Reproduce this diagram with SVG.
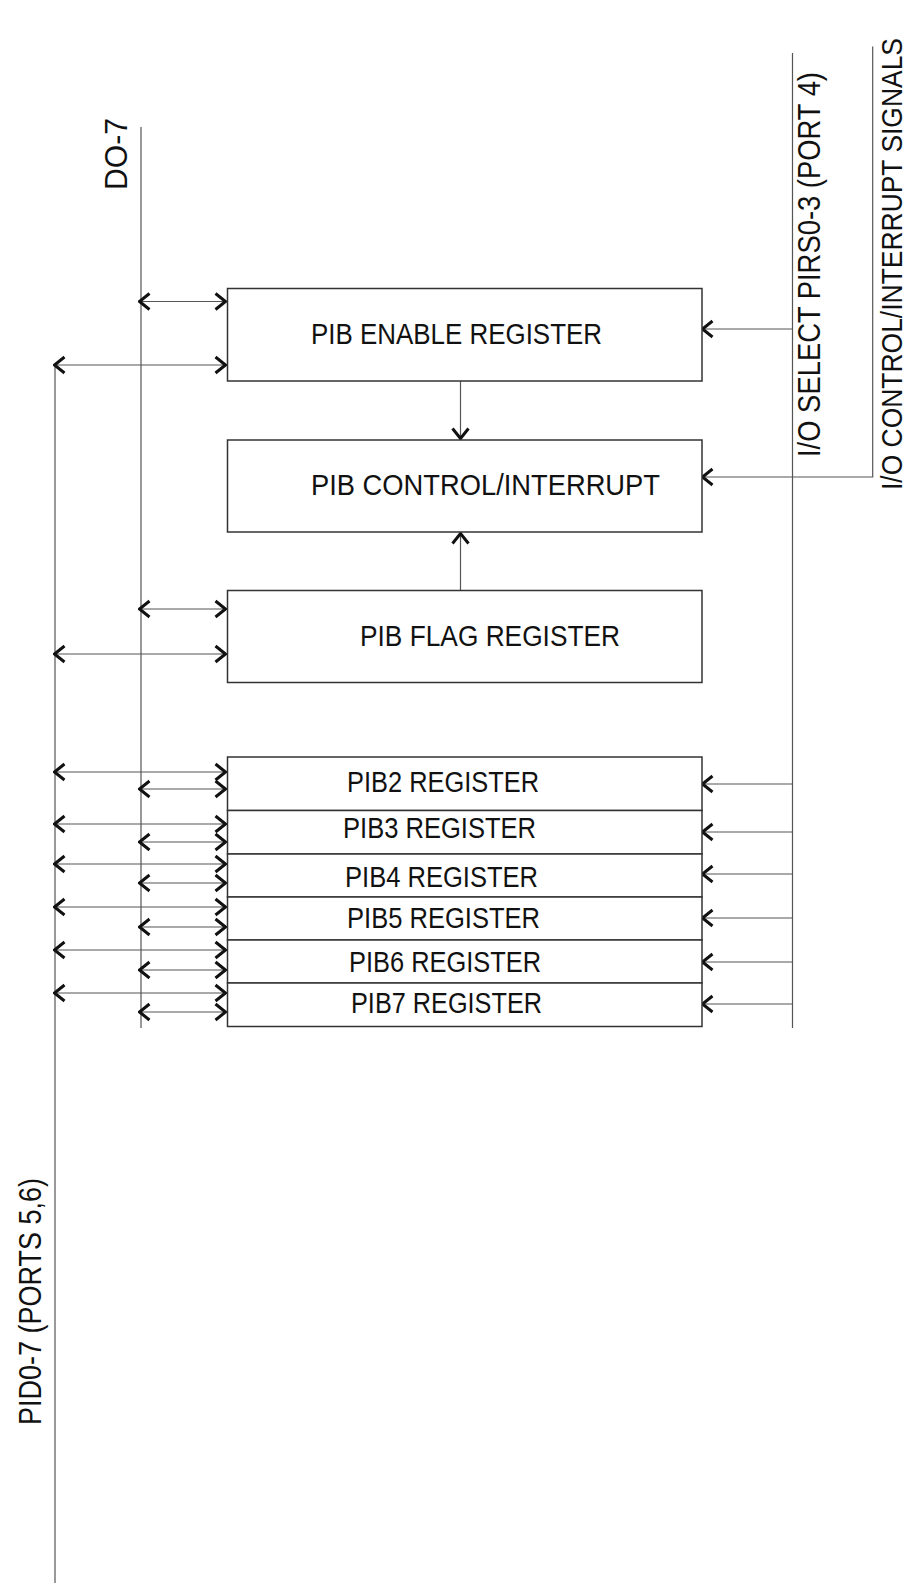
<svg xmlns="http://www.w3.org/2000/svg" width="912" height="1583" viewBox="0 0 912 1583">
<style>
.box{fill:#fff;stroke:#333;stroke-width:1.5}
.ln{stroke:#555;stroke-width:1.2;fill:none}
.t{font-family:"Liberation Sans",Arial,sans-serif;font-size:29px;fill:#111}
.lbl{font-family:"Liberation Sans",Arial,sans-serif;font-size:31px;fill:#111}
.lbl2{font-family:"Liberation Sans",Arial,sans-serif;font-size:30px;fill:#111}
</style>
<defs>
<marker id="ah" viewBox="0 0 13 20" refX="12" refY="10" markerWidth="13" markerHeight="20" markerUnits="userSpaceOnUse" orient="auto-start-reverse">
<path d="M1.5,2 L11.5,10 L1.5,18" fill="none" stroke="#111" stroke-width="3"/>
</marker>
</defs>
<rect width="912" height="1583" fill="#fff"/>

<g id="connectors">
<line class="ln" x1="141" y1="127" x2="141" y2="1028"/>
<line class="ln" x1="55" y1="365" x2="55" y2="1583"/>
<line class="ln" x1="792.5" y1="53" x2="792.5" y2="1028"/>
<polyline class="ln" points="872.7,46.5 872.7,477 702,477" marker-end="url(#ah)"/>
<line class="ln" x1="139" y1="301.5" x2="226" y2="301.5" marker-start="url(#ah)" marker-end="url(#ah)"/>
<line class="ln" x1="54" y1="365" x2="226" y2="365" marker-start="url(#ah)" marker-end="url(#ah)"/>
<line class="ln" x1="792.5" y1="329" x2="702" y2="329" marker-end="url(#ah)"/>
<line class="ln" x1="460.5" y1="381" x2="460.5" y2="439" marker-end="url(#ah)"/>
<line class="ln" x1="460.5" y1="590" x2="460.5" y2="533" marker-end="url(#ah)"/>
<line class="ln" x1="139" y1="609" x2="226" y2="609" marker-start="url(#ah)" marker-end="url(#ah)"/>
<line class="ln" x1="54" y1="654" x2="226" y2="654" marker-start="url(#ah)" marker-end="url(#ah)"/>
<line class="ln" x1="54" y1="772" x2="226" y2="772" marker-start="url(#ah)" marker-end="url(#ah)"/>
<line class="ln" x1="139" y1="789" x2="226" y2="789" marker-start="url(#ah)" marker-end="url(#ah)"/>
<line class="ln" x1="792.5" y1="784" x2="702" y2="784" marker-end="url(#ah)"/>
<line class="ln" x1="54" y1="824" x2="226" y2="824" marker-start="url(#ah)" marker-end="url(#ah)"/>
<line class="ln" x1="139" y1="842" x2="226" y2="842" marker-start="url(#ah)" marker-end="url(#ah)"/>
<line class="ln" x1="792.5" y1="832" x2="702" y2="832" marker-end="url(#ah)"/>
<line class="ln" x1="54" y1="864" x2="226" y2="864" marker-start="url(#ah)" marker-end="url(#ah)"/>
<line class="ln" x1="139" y1="883" x2="226" y2="883" marker-start="url(#ah)" marker-end="url(#ah)"/>
<line class="ln" x1="792.5" y1="874" x2="702" y2="874" marker-end="url(#ah)"/>
<line class="ln" x1="54" y1="907" x2="226" y2="907" marker-start="url(#ah)" marker-end="url(#ah)"/>
<line class="ln" x1="139" y1="927" x2="226" y2="927" marker-start="url(#ah)" marker-end="url(#ah)"/>
<line class="ln" x1="792.5" y1="918" x2="702" y2="918" marker-end="url(#ah)"/>
<line class="ln" x1="54" y1="950" x2="226" y2="950" marker-start="url(#ah)" marker-end="url(#ah)"/>
<line class="ln" x1="139" y1="970" x2="226" y2="970" marker-start="url(#ah)" marker-end="url(#ah)"/>
<line class="ln" x1="792.5" y1="962" x2="702" y2="962" marker-end="url(#ah)"/>
<line class="ln" x1="54" y1="993" x2="226" y2="993" marker-start="url(#ah)" marker-end="url(#ah)"/>
<line class="ln" x1="139" y1="1012" x2="226" y2="1012" marker-start="url(#ah)" marker-end="url(#ah)"/>
<line class="ln" x1="792.5" y1="1004" x2="702" y2="1004" marker-end="url(#ah)"/>
</g>

<g id="enable">
<rect class="box" x="227.5" y="288.5" width="474.5" height="92.5"/>
<text class="t" x="311" y="344" textLength="291" lengthAdjust="spacingAndGlyphs">PIB ENABLE REGISTER</text>
</g>
<g id="control">
<rect class="box" x="227.5" y="440" width="474.5" height="92"/>
<text class="t" x="311" y="495" textLength="349" lengthAdjust="spacingAndGlyphs">PIB CONTROL/INTERRUPT</text>
</g>
<g id="flag">
<rect class="box" x="227.5" y="590.5" width="474.5" height="92"/>
<text class="t" x="360" y="646" textLength="260" lengthAdjust="spacingAndGlyphs">PIB FLAG REGISTER</text>
</g>
<g id="pib2">
<rect class="box" x="227.5" y="757" width="474.5" height="53.5"/>
<text class="t" x="347" y="792" textLength="192" lengthAdjust="spacingAndGlyphs">PIB2 REGISTER</text>
</g>
<g id="pib3">
<rect class="box" x="227.5" y="810.5" width="474.5" height="43.5"/>
<text class="t" x="343" y="838" textLength="193" lengthAdjust="spacingAndGlyphs">PIB3 REGISTER</text>
</g>
<g id="pib4">
<rect class="box" x="227.5" y="854" width="474.5" height="43"/>
<text class="t" x="345" y="887" textLength="193" lengthAdjust="spacingAndGlyphs">PIB4 REGISTER</text>
</g>
<g id="pib5">
<rect class="box" x="227.5" y="897" width="474.5" height="43"/>
<text class="t" x="347" y="928" textLength="193" lengthAdjust="spacingAndGlyphs">PIB5 REGISTER</text>
</g>
<g id="pib6">
<rect class="box" x="227.5" y="940" width="474.5" height="43"/>
<text class="t" x="349" y="972" textLength="192" lengthAdjust="spacingAndGlyphs">PIB6 REGISTER</text>
</g>
<g id="pib7">
<rect class="box" x="227.5" y="983" width="474.5" height="43.5"/>
<text class="t" x="351" y="1013" textLength="191" lengthAdjust="spacingAndGlyphs">PIB7 REGISTER</text>
</g>

<g id="labels">
<text class="lbl" transform="translate(127,190) rotate(-90)" textLength="72" lengthAdjust="spacingAndGlyphs">DO-7</text>
<text class="lbl" transform="translate(41,1425) rotate(-90)" textLength="247" lengthAdjust="spacingAndGlyphs">PID0-7 (PORTS 5,6)</text>
<text class="lbl" transform="translate(820,457) rotate(-90)" textLength="385" lengthAdjust="spacingAndGlyphs">I/O SELECT PIRS0-3 (PORT 4)</text>
<text class="lbl2" transform="translate(902,490) rotate(-90)" textLength="452" lengthAdjust="spacingAndGlyphs">I/O CONTROL/INTERRUPT SIGNALS</text>
</g>
</svg>
